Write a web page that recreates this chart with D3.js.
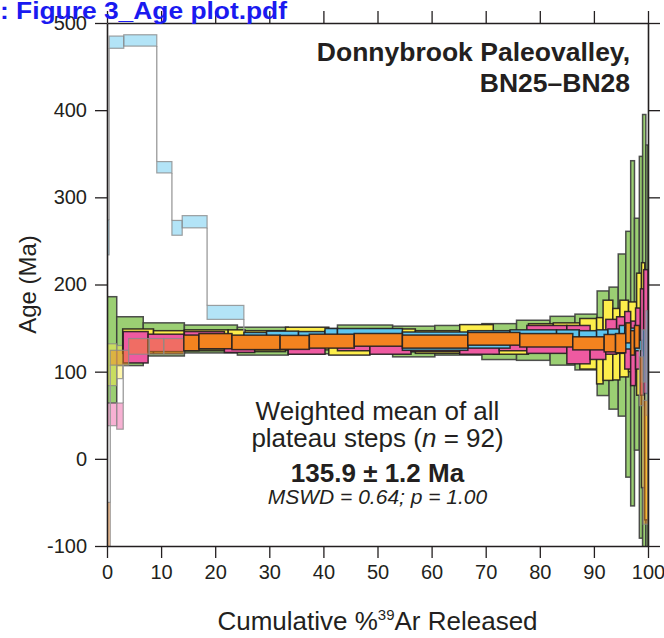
<!DOCTYPE html>
<html>
<head>
<meta charset="utf-8">
<script src="https://cdn.jsdelivr.net/npm/d3@7"></script>
<style>
  body { margin: 0; background: #fff; }
  svg { display: block; }
  text { font-family: "Liberation Sans", Arial, sans-serif; fill: #231f20; }
</style>
</head>
<body>
<div id="chart"></div>
<script>
// tick values for both axes
var pctTicks = [0, 10, 20, 30, 40, 50, 60, 70, 80, 90, 100];
var ageTicks = [-100, 0, 100, 200, 300, 400, 500];

// each sample: step edges (cumulative %39Ar), step ages (Ma), 2s errors (Ma),
// and the first/last index of the steps that belong to the plateau
var greenEdges = [0, 1.8, 6.7, 14.3, 24.1, 33.5, 42.6, 52.8, 60.6, 69.3, 75.7, 81.9, 86.5, 90.6, 92.8, 94.5, 95.9, 96.8, 97.5, 98.4, 99.0, 99.6, 100];
var greenAges = [125, 135, 137, 137.5, 135, 135, 137.5, 134.6, 136, 134.5, 136, 135.5, 134, 132.6, 127, 142, 120, 144, 143, 128, 140, 120];
var greenErrs = [61, 28, 19, 16, 16, 14.5, 16, 17.6, 17, 20.6, 23, 28, 32, 60, 70, 93, 141, 198, 133, 219, 255, 240];
var greenPlateau = [0, 21];

var yellowEdges = [0, 1.8, 2.9, 8.6, 14.3, 22.4, 25.5, 33.0, 41.0, 48.6, 57.0, 65.2, 71.4, 77.9, 82.5, 87.4, 90.5, 91.7, 93.5, 94.8, 96.4, 97.9, 98.8, 99.4, 100];
var yellowAges = [108, 111, 135, 134, 136, 137, 135, 138, 132, 136, 134, 140, 133, 139, 140, 132, 124, 136, 131.5, 138, 140, 143, 96, 40];
var yellowErrs = [24, 19, 14, 13, 12, 11, 12, 13, 13, 13, 13, 14, 13, 16, 16, 29, 38, 46, 41, 44, 40, 70, 129, 110];
var yellowPlateau = [2, 23];

var pinkEdges = [0, 1.8, 3.0, 7.6, 14.3, 21.7, 27.3, 33.5, 40.3, 42.6, 48.6, 56.2, 65.2, 72.5, 77.6, 85.0, 89.3, 92.2, 94.2, 95.7, 96.8, 97.7, 98.6, 99.2, 100];
var pinkAges = [51, 49, 128, 133, 136, 131, 134, 128, 140, 133, 130, 131, 128, 133, 137, 131, 130, 140, 142, 136, 121, 138, 134, 146];
var pinkErrs = [13, 15, 18, 10, 10, 9, 9, 8, 7, 9, 10, 8, 8, 9, 16, 22, 16, 20, 21, 33, 37, 35, 61, 71];
var pinkPlateau = [2, 23];

var cyanEdges = [0, 0.4, 3.1, 9.2, 12.0, 13.9, 18.5, 25.3, 29.5, 35.4, 40.3, 42.6, 54.6, 66.7, 74.5, 83.1, 87.3, 90.5, 92.6, 94.7, 95.7, 97.6, 98.8, 99.6, 100];
var cyanAges = [254, 478, 480, 334.5, 265, 272, 168, 137, 138, 138, 141, 141, 135, 137, 140, 140, 138, 142, 140, 143, 138, 130, 118, 110];
var cyanErrs = [20, 7, 6.5, 6.5, 8.5, 7, 8, 8, 8.5, 8, 8.5, 8.5, 10.5, 10, 8, 8, 9, 6, 9, 10, 12, 6, 30, 60];
var cyanPlateau = [7, 21];

var orangeEdges = [0, 0.6, 4.0, 7.8, 10.5, 14.2, 17.0, 23.1, 32.0, 37.4, 45.7, 54.6, 66.7, 76.3, 86.1, 91.9, 94.0, 95.9, 96.8, 97.5, 98.4, 99.1, 100];
var orangeAges = [-90, 116, 129, 129, 129, 133, 135, 133.6, 133.6, 135, 136.5, 134.5, 137.7, 136, 132.5, 132.7, 132.7, 144.5, 133, 140, 89, -4];
var orangeErrs = [40, 8.5, 9, 9, 9, 9, 8.7, 8.3, 8, 8, 7.3, 7.5, 7.3, 7.7, 7.5, 10, 11, 11.5, 14, 13, 28, 71];
var orangePlateau = [5, 19];

var samples = [
  { edges: greenEdges, ages: greenAges, errs: greenErrs, plateau: greenPlateau, color: "#9bcf73", stroke: "#3d3d3d" },
  { edges: yellowEdges, ages: yellowAges, errs: yellowErrs, plateau: yellowPlateau, color: "#fdee4b", stroke: "#231f20" },
  { edges: pinkEdges, ages: pinkAges, errs: pinkErrs, plateau: pinkPlateau, color: "#ee5aa1", stroke: "#231f20" },
  { edges: cyanEdges, ages: cyanAges, errs: cyanErrs, plateau: cyanPlateau, color: "#5ec5ef", stroke: "#231f20" },
  { edges: orangeEdges, ages: orangeAges, errs: orangeErrs, plateau: orangePlateau, color: "#f3831f", stroke: "#231f20" }
];

// set the dimensions and margins of the graph
var margin = { top: 23, right: 16, bottom: 92, left: 107 },
  width = 664 - margin.left - margin.right,
  height = 638 - margin.top - margin.bottom;

var svg = d3
  .select("#chart")
  .append("svg")
  .attr("width", 664)
  .attr("height", 638);

var g = svg
  .append("g")
  .attr("transform", "translate(" + margin.left + "," + margin.top + ")");

// set the ranges
var x = d3.scaleLinear().domain([0, 100]).range([0, width]);
var y = d3.scaleLinear().domain([-100, 500]).range([height, 0]);

g.append("clipPath")
  .attr("id", "plot-clip")
  .append("rect")
  .attr("width", width)
  .attr("height", height);

var plot = g.append("g").attr("clip-path", "url(#plot-clip)");

samples.forEach(function (s) {
  drawSample(plot, s);
});

/**
 * Draws one step-heating spectrum: the connecting risers, then one box per step.
 */
function drawSample(holder, s) {
  var steps = s.ages.map(function (a, i) {
    return {
      x0: s.edges[i],
      x1: s.edges[i + 1],
      age: a,
      err: s.errs[i],
      ok: i >= s.plateau[0] && i <= s.plateau[1]
    };
  });

  // vertical lines joining one step to the next where they do not overlap
  var links = [];
  for (var i = 1; i < steps.length; i++) {
    var p = steps[i - 1], n = steps[i];
    var ok = p.ok && n.ok;
    if (n.age - n.err > p.age + p.err) {
      links.push({ x: n.x0, y0: p.age + p.err, y1: n.age - n.err, ok: ok });
    } else if (n.age + n.err < p.age - p.err) {
      links.push({ x: n.x0, y0: p.age - p.err, y1: n.age + n.err, ok: ok });
    }
  }

  holder
    .append("g")
    .selectAll("line")
    .data(links)
    .enter()
    .append("line")
    .attr("x1", function (d) { return x(d.x); })
    .attr("x2", function (d) { return x(d.x); })
    .attr("y1", function (d) { return y(d.y0); })
    .attr("y2", function (d) { return y(d.y1); })
    .attr("stroke", function (d) { return d.ok ? s.stroke : "#9a9a9a"; })
    .attr("stroke-width", 1.3);

  holder
    .append("g")
    .selectAll("rect")
    .data(steps)
    .enter()
    .append("rect")
    .attr("x", function (d) { return x(d.x0); })
    .attr("width", function (d) { return x(d.x1) - x(d.x0); })
    .attr("y", function (d) { return y(d.age + d.err); })
    .attr("height", function (d) { return y(d.age - d.err) - y(d.age + d.err); })
    .attr("fill", s.color)
    .attr("fill-opacity", function (d) { return d.ok ? 1 : 0.47; })
    .attr("stroke", function (d) { return d.ok ? s.stroke : "#8a8a8a"; })
    .attr("stroke-opacity", function (d) { return d.ok ? 0.9 : 0.8; })
    .attr("stroke-width", function (d) { return d.ok ? 1.5 : 1.2; });
}

// axes
function styleAxis(sel) {
  sel.selectAll("path").attr("stroke", "#231f20").attr("stroke-width", 1.6);
  sel.selectAll("line").attr("stroke", "#231f20").attr("stroke-width", 1.3);
  sel.selectAll("text").style("font-size", "20px").attr("fill", "#231f20");
}

// plain hyphen for negative labels, as in the original figure
function plainNumber(d) {
  return String(d);
}

g.append("g")
  .attr("transform", "translate(0," + height + ")")
  .call(d3.axisBottom(x).tickValues(pctTicks).tickSize(12).tickSizeOuter(0).tickPadding(7).tickFormat(plainNumber))
  .call(styleAxis);

g.append("g")
  .call(d3.axisTop(x).tickValues(pctTicks).tickSize(12).tickSizeOuter(0).tickFormat(""))
  .call(styleAxis);

g.append("g")
  .call(d3.axisLeft(y).tickValues(ageTicks).tickSize(12).tickSizeOuter(0).tickPadding(8).tickFormat(plainNumber))
  .call(styleAxis);

g.append("g")
  .attr("transform", "translate(" + width + ",0)")
  .call(d3.axisRight(y).tickValues(ageTicks).tickSize(12).tickSizeOuter(0).tickFormat(""))
  .call(styleAxis);

// axis titles
var xTitle = svg
  .append("text")
  .attr("x", margin.left + width / 2)
  .attr("y", 630)
  .attr("text-anchor", "middle")
  .style("font-size", "26px");
xTitle.append("tspan").text("Cumulative %");
xTitle.append("tspan").attr("dy", -10).style("font-size", "15px").text("39");
xTitle.append("tspan").attr("dy", 10).text("Ar Released");

svg
  .append("text")
  .attr("transform", "translate(36," + (margin.top + height / 2) + ") rotate(-90)")
  .attr("text-anchor", "middle")
  .style("font-size", "24px")
  .text("Age (Ma)");

// sample title
svg
  .append("text")
  .attr("x", 630)
  .attr("y", 61)
  .attr("text-anchor", "end")
  .style("font-size", "26.5px")
  .style("font-weight", "bold")
  .text("Donnybrook Paleovalley,");

svg
  .append("text")
  .attr("x", 630)
  .attr("y", 92)
  .attr("text-anchor", "end")
  .style("font-size", "26.5px")
  .style("font-weight", "bold")
  .text("BN25\u2013BN28");

// weighted mean block
var cx = margin.left + x(50);

svg
  .append("text")
  .attr("x", cx)
  .attr("y", 420)
  .attr("text-anchor", "middle")
  .style("font-size", "26px")
  .text("Weighted mean of all");

var line2 = svg
  .append("text")
  .attr("x", cx)
  .attr("y", 447)
  .attr("text-anchor", "middle")
  .style("font-size", "26px");
line2.append("tspan").text("plateau steps (");
line2.append("tspan").style("font-style", "italic").text("n");
line2.append("tspan").text(" = 92)");

svg
  .append("text")
  .attr("x", cx)
  .attr("y", 482)
  .attr("text-anchor", "middle")
  .style("font-size", "26px")
  .style("font-weight", "bold")
  .text("135.9 \u00b1 1.2 Ma");

svg
  .append("text")
  .attr("x", cx)
  .attr("y", 504)
  .attr("text-anchor", "middle")
  .style("font-size", "21px")
  .style("font-style", "italic")
  .text("MSWD = 0.64; p = 1.00");

// file-name banner left over from the pdf viewer
svg
  .append("text")
  .attr("x", 0)
  .attr("y", 19)
  .attr("textLength", 287)
  .attr("lengthAdjust", "spacingAndGlyphs")
  .style("font-size", "24px")
  .style("font-weight", "bold")
  .style("fill", "#1a1af0")
  .text(": Figure 3_Age plot.pdf");
</script>
</body>
</html>
